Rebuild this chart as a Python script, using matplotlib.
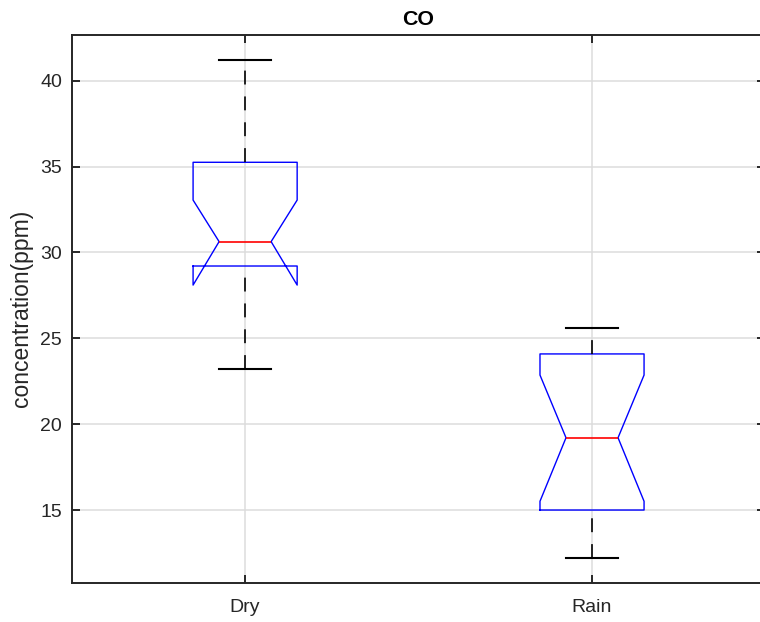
import matplotlib
matplotlib.use("Agg")
import matplotlib.pyplot as plt

# Notched box statistics
groups = ["Dry", "Rain"]
medians = [30.63, 19.21]
q1s = [29.21, 15.00]
q3s = [35.25, 24.09]
whislos = [23.23, 12.22]
whishis = [41.21, 25.62]
notch_lo = [28.10, 15.51]
notch_hi = [33.05, 22.86]

plt.rcParams['font.family'] = ['Liberation Sans', 'DejaVu Sans']
plt.rcParams['lines.scale_dashes'] = False

DARK = '#262626'

fig = plt.figure(figsize=(7.6, 6.22), dpi=100)
# right spine sits just outside the picture, as in the reference
ax = fig.add_axes([0.0943, 0.0635, 1.0072 - 0.0943, 0.9445 - 0.0635])

stats = []
for i, name in enumerate(groups):
    stats.append({
        "label": name,
        "med": medians[i],
        "q1": q1s[i],
        "q3": q3s[i],
        "whislo": whislos[i],
        "whishi": whishis[i],
        "cilo": notch_lo[i],
        "cihi": notch_hi[i],
    })

parts = ax.bxp(
    stats,
    positions=[1, 2],
    widths=0.3,
    shownotches=True,
    showfliers=False,
    boxprops=dict(color='#0000ff', linewidth=1.0),
    medianprops=dict(color='#ff0000', linewidth=1.2),
    whiskerprops=dict(color='black', linewidth=1.2, linestyle=(0, (10.0, 8.6))),
    capprops=dict(color='black', linewidth=1.5),
    zorder=3,
)

# MATLAB draws every whisker bottom-to-top, so the dash phase starts at the lower end
for w in parts["whiskers"]:
    ys = w.get_ydata()
    if ys[0] > ys[1]:
        w.set_ydata(ys[::-1])

ax.set_xlim(0.5, 2.5)
ax.set_ylim(10.78, 42.69)
ax.set_yticks([15, 20, 25, 30, 35, 40])
ax.set_xticks([1, 2])
ax.set_xticklabels(groups)

ax.grid(True, color='#dcdcdc', linewidth=1.1, zorder=0)
ax.set_axisbelow(True)

for s in ax.spines.values():
    s.set_color(DARK)
    s.set_linewidth(1.4)

ax.tick_params(direction='in', length=5.8, width=1.4, color=DARK,
               labelcolor=DARK, labelsize=14, top=True, right=True)
ax.tick_params(axis='x', pad=12)
ax.tick_params(axis='y', pad=7)

ax.set_ylabel("concentration(ppm)", fontsize=16.5, color=DARK, labelpad=5)
ax.set_title("CO", fontsize=15.4, fontweight='bold', color='black', pad=7)

fig.savefig("out.png", dpi=100)
